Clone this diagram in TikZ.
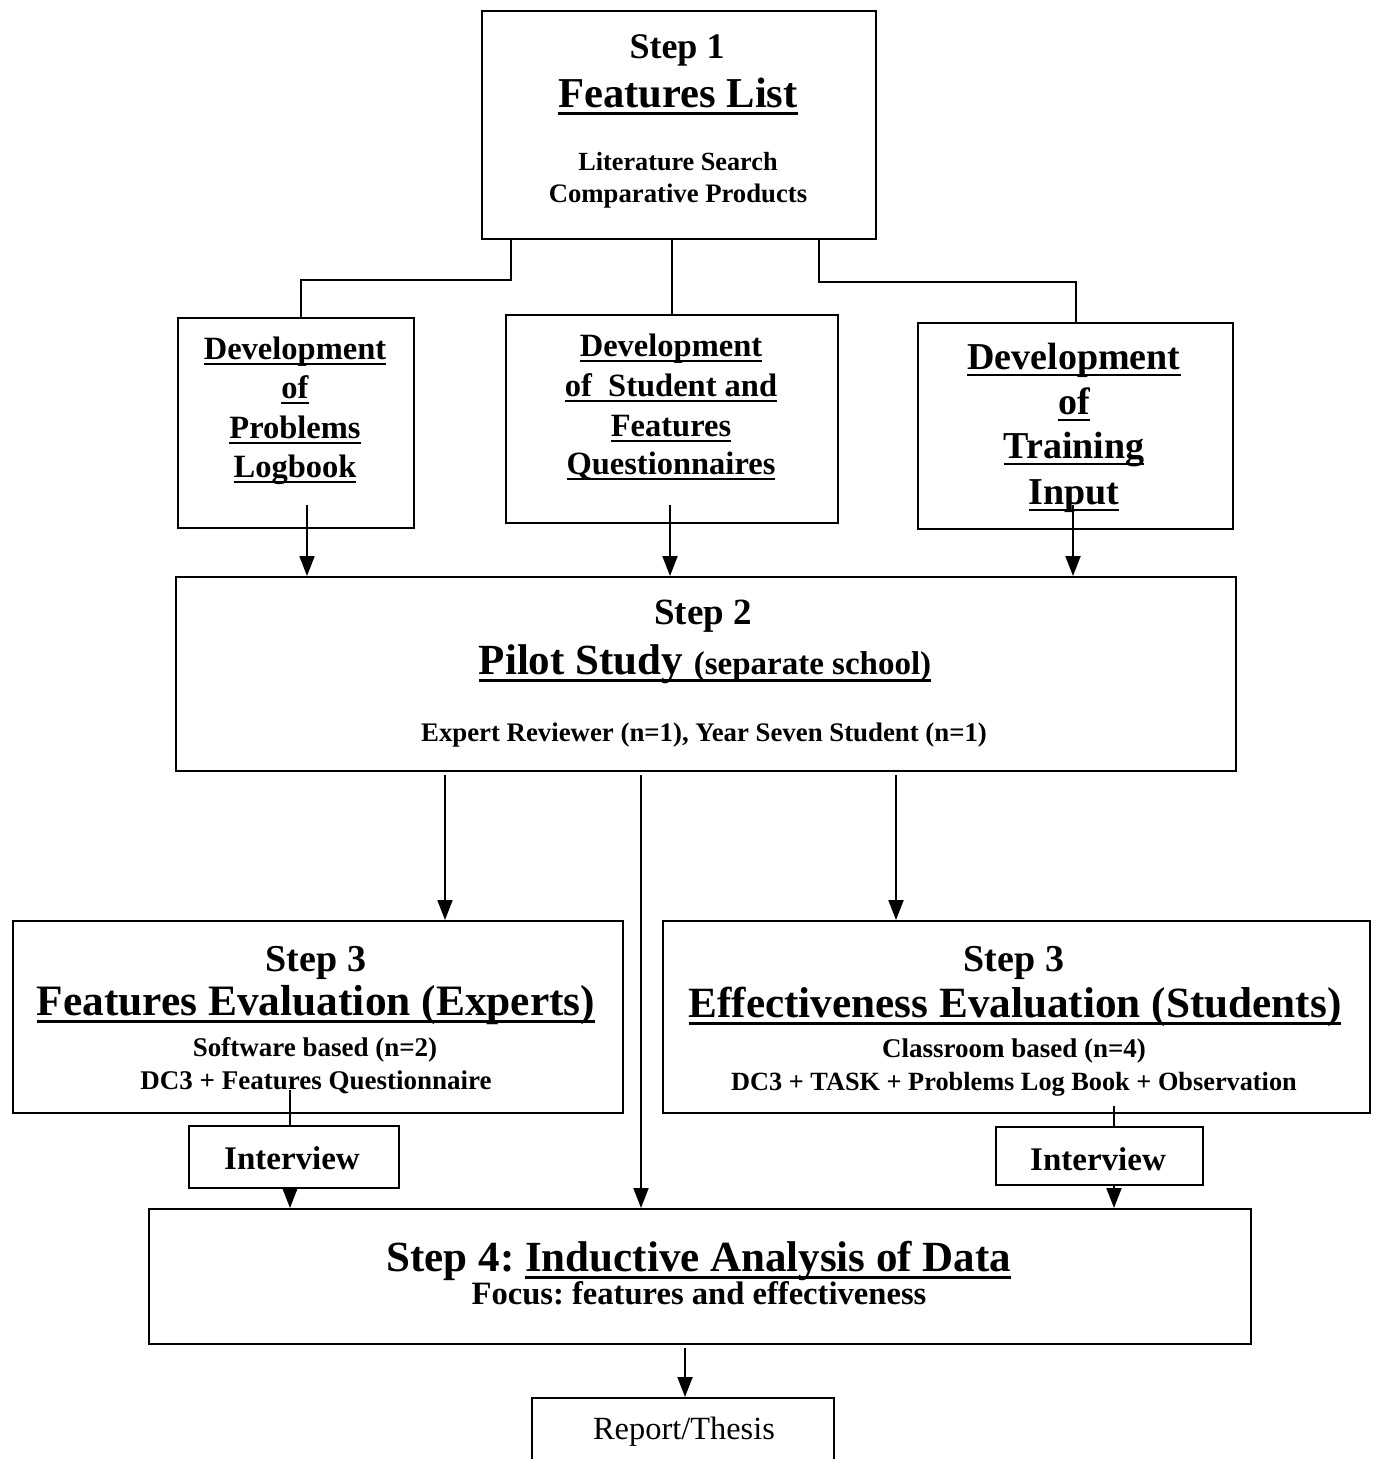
\documentclass[tikz,border=0pt]{standalone}
\usepackage{fontspec}
\setmainfont{Liberation Serif}
\usetikzlibrary{arrows.meta}
\frenchspacing
\newcommand{\myul}[1]{\setbox0\hbox{#1}\rlap{\rule[-0.19em]{\wd0}{0.07em}}\box0}
\newcommand{\fs}[1]{\fontsize{#1}{#1}\selectfont}
\tikzset{
  box/.style={draw, line width=2.4pt, inner sep=0pt, anchor=north west},
  txt/.style={anchor=base, inner sep=0pt, font=\bfseries},
  ln/.style={line width=2pt},
  arr/.style={line width=2pt, -{Triangle[length=20pt,width=15pt]}}
}
\begin{document}
\begin{tikzpicture}[x=1pt,y=-1pt]
\useasboundingbox[fill=white] (0,0) rectangle (1378,1459);
% boxes
\node[box, minimum width=394pt, minimum height=228pt] (s1) at (481,10) {};
\node[box, minimum width=236pt, minimum height=210pt] (d1) at (177,317) {};
\node[box, minimum width=332pt, minimum height=208pt] (d2) at (505,314) {};
\node[box, minimum width=315pt, minimum height=206pt] (d3) at (917,322) {};
\node[box, minimum width=1060pt, minimum height=194pt] (s2) at (175,576) {};
\node[box, minimum width=610pt, minimum height=192pt] (s3a) at (12,920) {};
\node[box, minimum width=707pt, minimum height=192pt] (s3b) at (662,920) {};
\node[box, minimum width=210pt, minimum height=62pt] (i1) at (188,1125) {};
\node[box, minimum width=207pt, minimum height=58pt] (i2) at (995,1126) {};
\node[box, minimum width=1102pt, minimum height=135pt] (s4) at (148,1208) {};
\node[box, minimum width=302pt, minimum height=90pt] (rep) at (531,1397) {};
% step 1 text
\node[txt] (t1a) at (677,58) {\fs{36}Step 1};
\node[txt] (t1b) at (678,107) {\fs{42.6}\myul{Features List}};
\node[txt] (t1c) at (678,170) {\fs{26.2}Literature Search};
\node[txt] (t1d) at (678,202) {\fs{26.7}Comparative Products};
% development boxes
\node[txt] (d1a) at (295,359) {\fs{32.5}\myul{Development}};
\node[txt] (d1b) at (295,398) {\fs{32.5}\myul{of}};
\node[txt] (d1c) at (295,438) {\fs{32.5}\myul{Problems}};
\node[txt] (d1d) at (295,477) {\fs{32.5}\myul{Logbook}};
\node[txt] (d2a) at (671,356) {\fs{32.5}\myul{Development}};
\node[txt] (d2b) at (671,396) {\fs{32.5}\myul{of~~Student and}};
\node[txt] (d2c) at (671,436) {\fs{32.5}\myul{Features}};
\node[txt] (d2d) at (671,474) {\fs{32.5}\myul{Questionnaires}};
\node[txt] (d3a) at (1074,369) {\fs{38}\myul{Development}};
\node[txt] (d3b) at (1074,414) {\fs{38}\myul{of}};
\node[txt] (d3c) at (1074,458) {\fs{38}\myul{Training}};
\node[txt] (d3d) at (1074,504) {\fs{38}\myul{Input}};
% step 2
\node[txt] (t2a) at (703,624) {\fs{37}Step 2};
\node[txt] (t2b) at (705,674) {\fs{43}\myul{Pilot Study {\fs{33}(separate school)}}};
\node[txt] (t2c) at (704,741) {\fs{26.8}Expert Reviewer (n=1), Year Seven Student (n=1)};
% step 3 left
\node[txt] (t3a) at (316,971) {\fs{38}Step 3};
\node[txt] (t3b) at (316,1015) {\fs{43.4}\myul{Features Evaluation (Experts)}};
\node[txt] (t3c) at (315,1056) {\fs{27}Software based (n=2)};
\node[txt] (t3d) at (316,1089) {\fs{27}DC3 + Features Questionnaire};
% step 3 right
\node[txt] (t3e) at (1014,971) {\fs{38}Step 3};
\node[txt] (t3f) at (1015,1017) {\fs{43.2}\myul{Effectiveness Evaluation (Students)}};
\node[txt] (t3g) at (1014,1057) {\fs{27}Classroom based (n=4)};
\node[txt] (t3h) at (1014,1090) {\fs{26.3}DC3 + TASK + Problems Log Book + Observation};
% interviews
\node[txt] (ti1) at (292,1169) {\fs{33}Interview};
\node[txt] (ti2) at (1098,1170) {\fs{33}Interview};
% step 4
\node[txt] (t4a) at (699,1271) {\fs{43}Step 4: \myul{Inductive Analysis of Data}};
\node[txt] (t4b) at (699,1304) {\fs{32.6}Focus: features and effectiveness};
\node[anchor=base, inner sep=0pt] (trep) at (684,1439) {\fs{32.4}Report/Thesis};
% connectors step 1 -> development boxes
\draw[ln] ([xshift=30pt]s1.south west) -- ++(0,40) -| ([xshift=5pt]d1.north);
\draw[ln] (d2.north |- s1.south) -- (d2.north);
\draw[ln] ([xshift=-58pt]s1.south east) -- ++(0,42) -| (d3.north);
% development boxes -> step 2
\coordinate (a1) at (307,505);
\coordinate (a2) at (670,505);
\coordinate (a3) at (1073,505);
\draw[arr] (a1) -- (a1 |- s2.north);
\draw[arr] (a2) -- (a2 |- s2.north);
\draw[arr] (a3) -- (a3 |- s2.north);
% step 2 -> step 3 / step 4
\coordinate (b1) at (445,775);
\coordinate (b2) at (641,775);
\coordinate (b3) at (896,775);
\draw[arr] (b1) -- (b1 |- s3a.north);
\draw[arr] (b2) -- (b2 |- s4.north);
\draw[arr] (b3) -- (b3 |- s3b.north);
% step 3 -> interviews -> step 4
\coordinate (c1) at (290,1090);
\draw[ln] (c1) -- (c1 |- i1.north);
\draw[arr] (c1 |- i1.south) -- (c1 |- s4.north);
\coordinate (c2) at (1114,1106);
\draw[ln] (c2) -- (c2 |- i2.north);
\draw[arr] (c2 |- i2.south) -- (c2 |- s4.north);
% step 4 -> report
\coordinate (c3) at (685,1348);
\draw[arr] (c3) -- (c3 |- rep.north);
\end{tikzpicture}
\end{document}
